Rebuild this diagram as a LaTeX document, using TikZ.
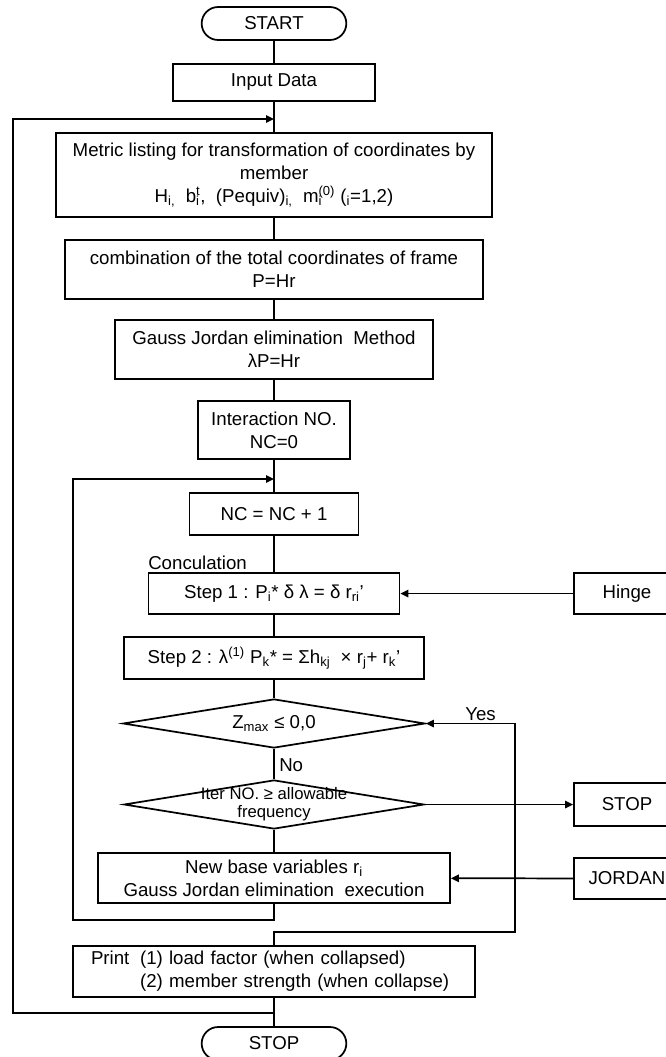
\documentclass[tikz,border=0pt]{standalone}
\usepackage{fontspec}
\setmainfont{Liberation Sans}
\usetikzlibrary{shapes.misc,shapes.geometric,arrows.meta}
\newcommand{\sbsp}[2]{\rlap{\textsubscript{#1}}\textsuperscript{#2}}
\tikzset{
  box/.style={draw, line width=1.3pt, rectangle, align=center, inner sep=2pt},
  pill/.style={draw, line width=1.3pt, rounded rectangle, inner sep=2pt},
  dia/.style={draw, line width=1.3pt, diamond, inner sep=0pt, aspect=6},
  ln/.style={line width=1.3pt},
  arr/.style={line width=1.3pt, -{Triangle[length=6pt,width=5.5pt]}},
}
\begin{document}
\begin{tikzpicture}[x=0.75pt, y=-0.75pt, font=\fontsize{14}{17}\selectfont]
\useasboundingbox (0,0) rectangle (666,1057);
\fill[white] (0,0) rectangle (666,1057);
\clip (0,0) rectangle (666,1057);

\node[pill, minimum width=112.5pt, minimum height=24.75pt] (start) at (274,23.5) {START};
\node[box, minimum width=151.5pt, minimum height=27.75pt] (input) at (274,82.5) {Input Data};
\node[box, minimum width=327pt, minimum height=63pt] (metric) at (274,175)
  {Metric listing for transformation of coordinates by\\ member\\
   H\textsubscript{i,}\ \ b\sbsp{i}{t},\ \ (Pequiv)\textsubscript{i,}\ \ m\sbsp{i}{(0)} (\textsubscript{i}=1,2)};
\node[box, minimum width=313.5pt, minimum height=44.25pt] (comb) at (274,269.5)
  {combination of the total coordinates of frame\\ P=Hr};
\node[box, minimum width=238.5pt, minimum height=44.25pt] (gauss) at (274,349.5)
  {Gauss Jordan elimination\ \ Method\\ λP=Hr};
\node[box, minimum width=114pt, minimum height=43.5pt] (inter) at (274,430)
  {Interaction NO.\\ NC=0};
\node[box, minimum width=126.75pt, minimum height=31.5pt] (nc) at (274,514) {NC = NC + 1};
\node[anchor=west, inner sep=0pt] (concl) at (148,563) {Conculation};
\node[box, minimum width=188.25pt, minimum height=30.75pt] (step1) at (274,593.5)
  {Step 1 : P\textsubscript{i}* δ λ = δ r\textsubscript{ri}'};
\node[box, minimum width=79.5pt, minimum height=30.75pt] (hinge) at (627,593.5) {Hinge};
\node[box, minimum width=225pt, minimum height=31.5pt] (step2) at (274,658)
  {Step 2 : λ\textsuperscript{(1)} P\textsubscript{k}* = Σh\textsubscript{kj}\ \ × r\textsubscript{j}+ r\textsubscript{k}'};
\node[dia, minimum width=226.5pt, minimum height=36.75pt,
  label=center:{Z\textsubscript{max} ≤ 0,0}] (dia1) at (274,723.5) {};
\node[dia, minimum width=225pt, minimum height=36.75pt,
  label={[align=center, font=\fontsize{12.5}{13.5}\selectfont]center:Iter NO. ≥ allowable\\frequency}] (dia2) at (274,804.5) {};
\node[box, minimum width=79.5pt, minimum height=32.25pt] (stopr) at (627,804.5) {STOP};
\node[box, minimum width=264pt, minimum height=37.5pt] (newbase) at (274,878)
  {New base variables r\textsubscript{i}\\ Gauss Jordan elimination\ \ execution};
\node[box, minimum width=79.5pt, minimum height=30.75pt] (jordan) at (627,878.5) {JORDAN};
\node[box, minimum width=301.5pt, minimum height=38.25pt, text width=274.5pt,
  inner xsep=13.5pt, align=left] (print) at (274,971.5)
  {\begin{tabular}{@{}l@{\hspace{8pt}}l@{}}Print & (1) load factor (when collapsed)\\ & (2) member strength (when collapse)\end{tabular}};
\node[pill, minimum width=112.5pt, minimum height=24.75pt] (stop) at (274,1043.5) {STOP};

\node[anchor=west, inner sep=0pt] (yes) at (465,714) {Yes};
\node[anchor=west, inner sep=0pt] (no) at (279,765) {No};

\coordinate (ola) at (274,119);
\coordinate (olb) at (13,1013);
\coordinate (ila) at (274,479);
\coordinate (ilb) at (73,920);
\coordinate (ret) at (515,932);

\draw[ln] (start) -- (input);
\draw[ln] (input) -- (metric);
\draw[ln] (metric) -- (comb);
\draw[ln] (comb) -- (gauss);
\draw[ln] (gauss) -- (inter);
\draw[ln] (inter) -- (nc);
\draw[ln] (nc) -- (step1);
\draw[ln] (step1) -- (step2);
\draw[ln] (step2) -- (dia1.north);
\draw[ln] (dia1.south) -- (dia2.north);
\draw[ln] (dia2.south) -- (newbase);
\draw[ln] (print) -- (stop);
\draw[arr] (hinge) -- (step1);
\draw[arr] (dia2.east) -- (stopr);
\draw[arr] (jordan) -- (newbase);
\draw[arr] (print.north) |- (ret) |- (dia1.east);
\draw[arr] (newbase.south) |- (ilb) |- (ila);
\draw[arr] (print.south) |- (olb) |- (ola);
\end{tikzpicture}
\end{document}
